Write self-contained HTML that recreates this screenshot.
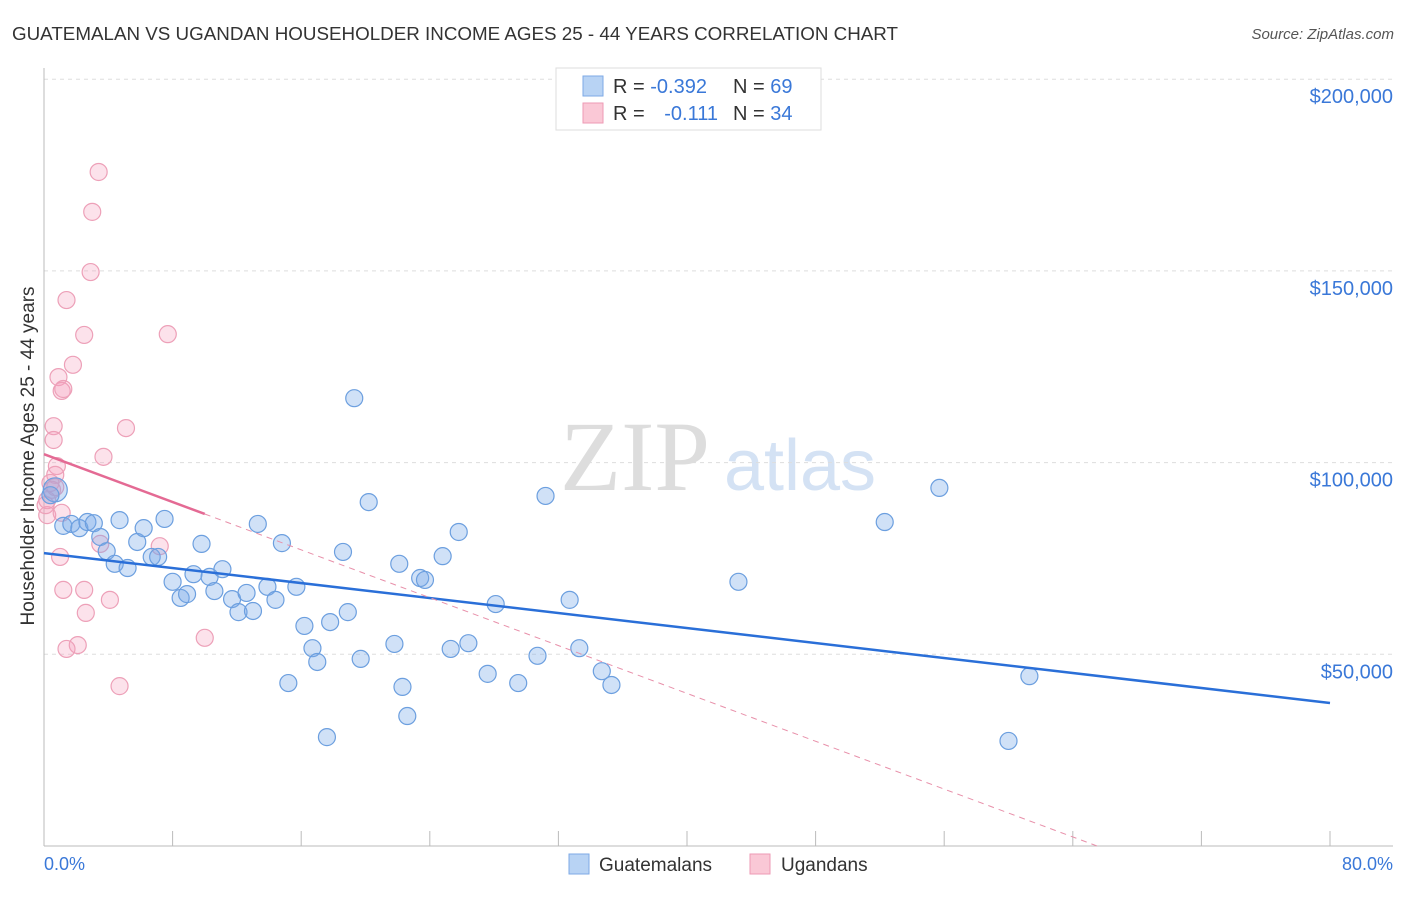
<!DOCTYPE html>
<html><head><meta charset="utf-8"><style>
body{margin:0;background:#fff;font-family:"Liberation Sans",sans-serif;}
svg text{font-family:"Liberation Sans",sans-serif;}
</style></head><body>
<svg id="c" width="1406" height="892" xmlns="http://www.w3.org/2000/svg">
<text x="12" y="40" font-size="18" fill="#333" textLength="886" lengthAdjust="spacingAndGlyphs">GUATEMALAN VS UGANDAN HOUSEHOLDER INCOME AGES 25 - 44 YEARS CORRELATION CHART</text>
<text x="1394" y="39" font-size="15" fill="#555" text-anchor="end" font-style="italic">Source: ZipAtlas.com</text>
<g>
<text x="635" y="490" font-size="100" fill="#ddd" text-anchor="middle" font-family="Liberation Serif" style="font-family:'Liberation Serif',serif">ZIP</text>
<text x="800" y="490" font-size="72" fill="#d4e2f4" text-anchor="middle">atlas</text></g>
<g id="grid"></g><g id="axes"></g><g id="marks"></g>
<text transform="translate(34,456) rotate(-90)" font-size="19" fill="#333" text-anchor="middle">Householder Income Ages 25 - 44 years</text>
<text x="44" y="870" font-size="18" fill="#3a78d8">0.0%</text>
<text x="1393" y="870" font-size="18" fill="#3a78d8" text-anchor="end">80.0%</text>
<g>
<rect x="556" y="68" width="265" height="62" fill="#fff" stroke="#ddd"/>
<rect x="583" y="76" width="20" height="20" fill="#b8d3f4" stroke="#7eaae6"/>
<rect x="583" y="103" width="20" height="20" fill="#fac8d6" stroke="#ee9ab4"/>
<text x="613" y="93" font-size="20" fill="#333">R = <tspan fill="#3a78d8">-0.392</tspan></text>
<text x="733" y="93" font-size="20" fill="#333">N = <tspan fill="#3a78d8">69</tspan></text>
<text x="613" y="120" font-size="20" fill="#333">R = <tspan fill="#3a78d8" dx="14">-0.111</tspan></text>
<text x="733" y="120" font-size="20" fill="#333">N = <tspan fill="#3a78d8">34</tspan></text></g>
<g>
<rect x="569" y="854" width="20" height="20" fill="#b8d3f4" stroke="#7eaae6"/>
<text x="599" y="871" font-size="19" fill="#333">Guatemalans</text>
<rect x="750" y="854" width="20" height="20" fill="#fac8d6" stroke="#ee9ab4"/>
<text x="781" y="871" font-size="19" fill="#333">Ugandans</text></g>
</svg>
<script>
const yTicks=[50,100,150,200];
const yTickLabels=["$50,000","$100,000","$150,000","$200,000"];
const blueX=[0.7,1.2,1.7,2.2,2.7,3.1,3.5,3.9,4.4,4.7,5.2,5.8,6.2,6.7,7.1,7.5,8.0,8.5,8.9,9.8,9.3,10.3,10.6,11.1,11.7,12.1,12.6,13.0,13.3,13.9,14.4,14.8,15.2,15.7,16.2,16.7,17.0,17.6,17.8,18.6,18.9,19.3,19.7,20.2,21.8,22.1,22.3,22.6,23.4,23.7,24.8,25.3,25.8,26.4,27.6,28.1,29.5,30.7,31.2,32.7,33.3,34.7,35.3,43.2,52.3,55.7,60.0,61.3,0.4];
const blueY=[92.9,83.5,84.0,82.9,84.5,84.2,80.6,76.9,73.6,85.0,72.5,79.3,82.9,75.4,75.4,85.3,68.9,64.7,65.7,78.8,70.9,70.2,66.5,72.2,64.4,61.0,66.0,61.3,84.0,67.6,64.2,79.0,42.5,67.6,57.4,51.6,48.0,28.4,58.4,76.7,61.0,116.8,48.8,89.7,52.7,73.6,41.5,33.9,69.9,69.4,75.6,51.4,81.9,52.9,44.9,63.1,42.5,49.6,91.3,64.2,51.6,45.6,42.0,68.9,84.5,93.4,27.4,44.3,91.5];
const pinkX=[3.4,3.0,2.9,1.4,2.5,7.7,1.8,0.9,1.1,1.2,0.6,5.1,0.6,3.7,0.8,0.7,0.4,0.5,0.2,1.1,3.5,7.2,1.0,2.5,4.1,1.2,2.6,10.0,2.1,1.4,4.7,0.2,0.7,0.1];
const pinkY=[175.8,165.4,149.7,142.4,133.3,133.5,125.5,122.3,118.7,119.2,109.5,109.0,105.9,101.5,99.1,96.8,94.7,92.9,86.3,86.9,78.8,78.2,75.4,66.8,64.2,66.8,60.8,54.3,52.4,51.4,41.7,90.2,93.6,88.9];
const blueTrend=[76.4,37.3];   // value at 0% and 80%
const pinkTrend=[102.2,-1.56]; // intercept, slope per %
const X=p=>44+p*16.075, Y=v=>846-v*3.834;
const NS="http://www.w3.org/2000/svg";
function mk(parent,tag,attrs){const e=document.createElementNS(NS,tag);for(const k in attrs)e.setAttribute(k,attrs[k]);document.getElementById(parent).appendChild(e);return e;}
yTicks.forEach((v,i)=>{
 const l=mk('grid','line',{x1:44,x2:1393,y1:Y(v),y2:Y(v),stroke:'#ddd','stroke-dasharray':'4,4'});
 
 
 const t=mk('grid','text',{x:1393,y:Y(v)+24,'font-size':20,fill:'#3a78d8','text-anchor':'end'});
 t.textContent=yTickLabels[i];
 
 
});
const ax=mk('axes','line',{x1:44,x2:44,y1:68,y2:846,stroke:'#bbb'});


const bx=mk('axes','line',{x1:44,x2:1393,y1:846,y2:846,stroke:'#bbb'});


for(let i=0;i<=10;i++){const t=mk('axes','line',{x1:X(i*8),x2:X(i*8),y1:831,y2:846,stroke:'#bbb'});
 
 }
pinkX.forEach((x,i)=>{const c=mk('marks','circle',{cx:X(x),cy:Y(pinkY[i]),r:8.5,fill:'rgba(244,160,188,0.3)',stroke:'#eda0b8','stroke-width':1.2});
 
 });
blueX.forEach((x,i)=>{const c=mk('marks','circle',{cx:X(x),cy:Y(blueY[i]),r:i==0?12:8.5,fill:'rgba(120,170,232,0.35)',stroke:'#6c9fdf','stroke-width':1.2});
 
 });
const bl=mk('marks','line',{x1:X(0),y1:Y(blueTrend[0]),x2:X(80),y2:Y(blueTrend[1]),stroke:'#2a6fd8','stroke-width':2.5});


const pz=-pinkTrend[0]/pinkTrend[1];
const pd=mk('marks','line',{x1:X(10),y1:Y(pinkTrend[0]+pinkTrend[1]*10),x2:X(pz),y2:Y(0),stroke:'#e890aa','stroke-width':1,'stroke-dasharray':'6,5'});


const pl=mk('marks','line',{x1:X(0),y1:Y(pinkTrend[0]),x2:X(10),y2:Y(pinkTrend[0]+pinkTrend[1]*10),stroke:'#e46a94','stroke-width':2.5});


</script>
</body></html>
